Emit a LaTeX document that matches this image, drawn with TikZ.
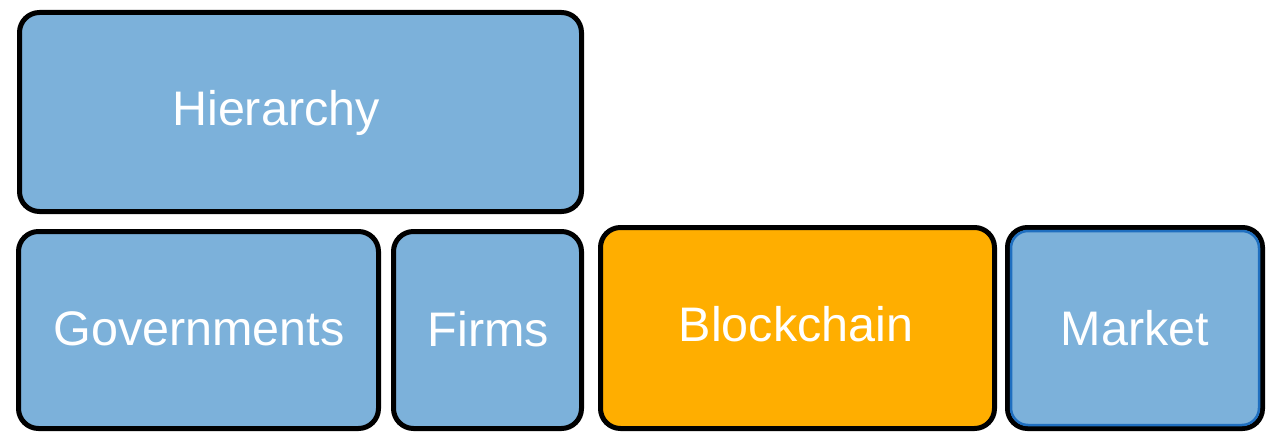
\documentclass[tikz,border=0pt]{standalone}
\usepackage{fontspec}
\setmainfont{Liberation Sans}
\definecolor{cellblue}{HTML}{7CB1DA}
\definecolor{cellorange}{HTML}{FFAE00}
\definecolor{edgeblue}{HTML}{1F6FC0}
\begin{document}
\begin{tikzpicture}[x=1pt,y=1pt,
  cell/.style={draw=black, line width=5pt, rounded corners=20pt, inner sep=0pt, outer sep=0pt},
  label/.style={text=white, font=\fontsize{48.5}{58}\selectfont, inner sep=0pt}]
\useasboundingbox (0,0) rectangle (1275,432);
% upper block
\node[cell, fill=cellblue, minimum width=562, minimum height=199] (hier) at (300.5,320) {};
\node[label] (hiert) at (276,319) {Hierarchy};
% lower row
\node[cell, fill=cellblue, minimum width=360, minimum height=197] (gov) at (198.5,102) {};
\node[label] (govt) at (199,103) {Governments};
\node[cell, fill=cellorange, minimum width=394, minimum height=201] (bc) at (797.5,104) {};
\node[cell, fill=cellblue, minimum width=188, minimum height=197] (firm) at (487.5,102) {};
\node[label] (firmt) at (488.5,103) {Firms};
\node[label] (bct) at (796,108) {Blockchain};
\node[cell, fill=cellblue, minimum width=255, minimum height=201] (mkt) at (1135,104) {};
\draw[edgeblue, line width=2.5pt, rounded corners=17pt]
  ([xshift=3.5pt,yshift=3.5pt]mkt.south west) rectangle ([xshift=-3.5pt,yshift=-3.5pt]mkt.north east);
\node[label] (mktt) at (1135,104) {Market};
\end{tikzpicture}
\end{document}
